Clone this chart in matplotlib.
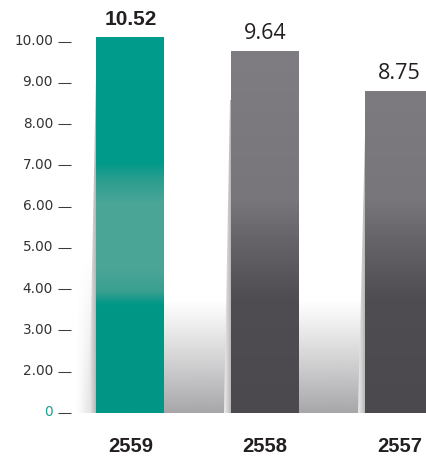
import numpy as np
import matplotlib
matplotlib.use('Agg')
import matplotlib.pyplot as plt
import matplotlib.transforms as mtransforms
from matplotlib.colors import to_rgb
from matplotlib.patches import Polygon

# data
years = ['2559', '2558', '2557']
value_labels = ['10.52', '9.64', '8.75']
bar_tops = [10.11, 9.77, 8.80]   # heights as drawn against the printed axis
tick_values = [0, 2, 3, 4, 5, 6, 7, 8, 9, 10]
tick_labels = ['0', '2.00', '3.00', '4.00', '5.00', '6.00', '7.00', '8.00', '9.00', '10.00']

TEAL = '#009a8a'
TEXT = '#231f20'


# the printed axis squeezes 0..2 into a single step
def fwd(v):
    v = np.asarray(v, dtype=float)
    return np.where(v < 2, v / 2.0, v - 1.0)


def inv(t):
    t = np.asarray(t, dtype=float)
    return np.where(t < 1, t * 2.0, t + 1.0)


W, H = 426, 457
fig = plt.figure(figsize=(W / 100, H / 100), dpi=100)
ax = fig.add_axes([71 / W, 44 / H, 355 / W, 413 / H])
ax.set_yscale('function', functions=(fwd, inv))
ax.set_ylim(0, float(inv(413 / 41.26)))
ax.set_xlim(-0.442, 2.197)
for s in ax.spines.values():
    s.set_visible(False)

x = np.arange(len(years))
width = 0.506
bars = ax.bar(x, bar_tops, width=width, color=['#009c8c', '#7f7d82', '#7d7b80'],
              linewidth=0, zorder=3)

bt = mtransforms.blended_transform_factory(ax.transData, ax.transAxes)


def vgrad(stops, n=400):
    # stops: list of (axes_frac, colour), returns (n,1,3) image bottom->top
    fr = np.linspace(0, 1, n)
    pos = [p for p, _ in stops]
    cols = np.array([to_rgb(c) for _, c in stops])
    img = np.stack([np.interp(fr, pos, cols[:, k]) for k in range(3)], axis=-1)
    return img[:, None, :]


def frac(py):
    return (413 - py) / 413


teal_img = vgrad([(0, '#009585'), (frac(305), '#009787'), (frac(292), '#3a9f90'),
                  (frac(270), '#4aa597'), (frac(205), '#4ca698'), (frac(180), '#2a9e8f'),
                  (frac(163), '#009a8a'), (1, '#009c8c')])
gray_img = vgrad([(0, '#4b494e'), (frac(300), '#4f4d52'), (frac(240), '#666469'),
                  (frac(200), '#78767b'), (frac(50), '#7f7d82'), (1, '#807e83')])

for i, b in enumerate(bars):
    img = teal_img if i == 0 else gray_img
    l = b.get_x()
    im = ax.imshow(img, extent=(l, l + width, 0, 1), transform=bt, origin='lower',
                   aspect='auto', zorder=3.5, interpolation='bilinear')
    im.set_clip_path(b)

# soft floor shadows between bars
sh_top = frac(300)
n = 200
ramp = np.linspace(1, 0, n) ** 1.1
shade = np.zeros((n, 2, 4))
shade[..., :3] = to_rgb('#5f5d62')
shade[..., 3] = (0.55 * ramp)[:, None]
for i in range(len(bars) - 1):
    l = bars[i].get_x() + width
    r = bars[i + 1].get_x()
    ax.imshow(shade, extent=(l, r, 0, sh_top), transform=bt, origin='lower',
              aspect='auto', zorder=1, interpolation='bilinear')

# shadow left of the first bar, fading out sideways
left_sh = np.zeros((n, 100, 4))
left_sh[..., :3] = to_rgb('#6a686d')
hz = np.linspace(0, 1, 100) ** 1.5
left_sh[..., 3] = 0.35 * ramp[:, None] * hz[None, :]
l0 = bars[0].get_x()
ax.imshow(left_sh, extent=(l0 - 0.17, l0, 0, frac(255)), transform=bt, origin='lower',
          aspect='auto', zorder=1, interpolation='bilinear')

# thin slanted slivers on the left of each bar
sl_w = 7 / 134.5
sl_tops = [frac(75), frac(100), frac(135)]
sliver = np.zeros((2, 60, 4))
sliver[..., :3] = np.stack([np.interp(np.linspace(0, 1, 60), [0, 1], [0.92, 0.70])] * 3, axis=-1)[None, :, :]
sliver[..., 3] = 1
for b, st in zip(bars, sl_tops):
    l = b.get_x()
    poly = Polygon([(l - sl_w, 0), (l, 0), (l, st), (l - 0.006, st)], closed=True,
                   transform=bt, facecolor='none', edgecolor='none')
    ax.add_patch(poly)
    im = ax.imshow(sliver, extent=(l - sl_w, l, 0, st), transform=bt, origin='lower',
                   aspect='auto', zorder=2, interpolation='bilinear')
    im.set_clip_path(poly)

# value labels above bars
for i, (b, lab) in enumerate(zip(bars, value_labels)):
    if i == 0:
        kw = dict(fontsize=15, fontweight='bold', family='Liberation Sans')
    else:
        kw = dict(fontsize=15.5, family='Open Sans')
    ax.annotate(lab, (b.get_x() + width / 2, b.get_height()), xytext=(0, 13),
                textcoords='offset points', ha='center', va='center', color=TEXT,
                annotation_clip=False, **kw)

# y axis
ax.set_yticks(tick_values)
ax.set_yticklabels(tick_labels)
ax.yaxis.set_minor_locator(matplotlib.ticker.NullLocator())
ax.tick_params(axis='y', length=9.4, width=0.75, color='#3a3a3a', pad=3.6,
               labelsize=9.8, labelcolor='#333333')
shift = mtransforms.ScaledTranslation(0, 2 / 100, fig.dpi_scale_trans)
for i, lab in enumerate(ax.get_yticklabels()):
    lab.set_transform(lab.get_transform() + shift)
    if i == 0:
        lab.set_color('#1a9e90')

# x axis
ax.set_xticks(x)
ax.set_xticklabels(years, fontsize=14.5, fontweight='bold', family='Liberation Sans', color=TEXT)
ax.tick_params(axis='x', length=0, pad=17)

fig.savefig('out.png', dpi=100)
